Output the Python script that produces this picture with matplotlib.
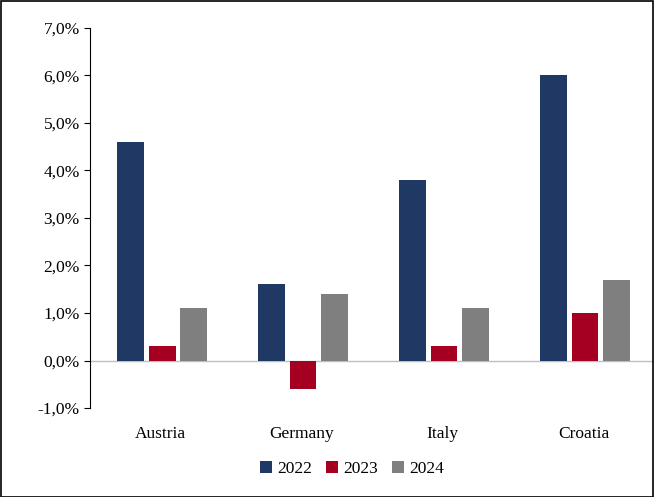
import matplotlib
matplotlib.use("Agg")
import matplotlib.pyplot as plt
from matplotlib.patches import Rectangle

countries = ["Austria", "Germany", "Italy", "Croatia"]
years = ["2022", "2023", "2024"]
v2022 = [4.6, 1.6, 3.8, 6.0]
v2023 = [0.3, -0.6, 0.3, 1.0]
v2024 = [1.1, 1.4, 1.1, 1.7]
colors = ["#1F3864", "#A50021", "#7F7F7F"]

plt.rcParams['font.family'] = ['Liberation Serif', 'DejaVu Serif']
fig = plt.figure(figsize=(6.54, 4.97), dpi=100)
fig.patches.append(Rectangle((0.001, 0.001), 0.997, 0.997, transform=fig.transFigure,
                             fill=False, edgecolor='black', linewidth=1.2))
ax = fig.add_axes([0.138, 0.179, 0.862, 0.765])
w = 0.19; step = 0.225
for i, (vals, c, y) in enumerate(zip([v2022, v2023, v2024], colors, years)):
    xs = [k + (i - 1) * step + 0.01 for k in range(len(countries))]
    ax.bar(xs, vals, width=w, color=c, label=y, zorder=3)
ax.axhline(0, color='#BFBFBF', linewidth=1, zorder=2)
ax.set_xlim(-0.5, 3.5)
ax.set_ylim(-1, 7)
ax.set_yticks(range(-1, 8))
ax.set_yticklabels([f"{t},0%" for t in range(-1, 8)], fontsize=12.5)
ax.set_xticks(range(4))
ax.set_xticklabels(countries, fontsize=12.5)
ax.tick_params(axis='x', length=0, pad=13)
ax.tick_params(axis='y', length=4, direction='out')
for s in ['top', 'right']:
    ax.spines[s].set_visible(False)
ax.spines['bottom'].set_visible(False)
ax.spines['left'].set_color('black')
ax.legend(loc='center', bbox_to_anchor=(0.465, -0.16), ncol=3, frameon=False,
          fontsize=12.5, handlelength=0.7, handleheight=0.7, columnspacing=0.8, handletextpad=0.3)
fig.savefig("out.png", dpi=100)
